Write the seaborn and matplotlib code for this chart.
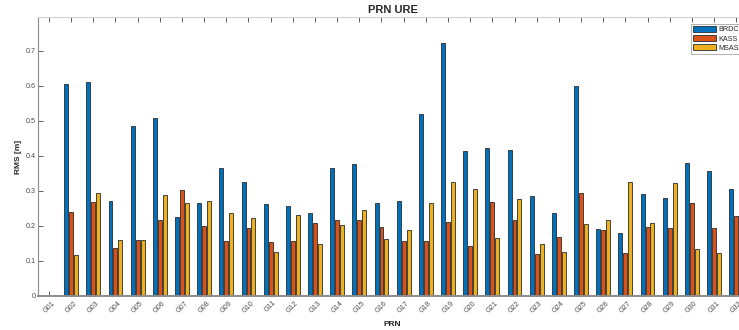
import numpy as np
import pandas as pd
import seaborn as sns
from matplotlib import pyplot as plt

sns.set_style("ticks")
plt.rcParams["font.family"] = ["Liberation Sans", "DejaVu Sans"]

PRN = [f"G{i:02d}" for i in range(1, 33)]
SOURCES = ["BRDC", "KASS", "MSAS"]
COLORS = ["#0072BD", "#D95319", "#EDB120"]

BRDC = [0.0, 0.604, 0.610, 0.272, 0.485, 0.508, 0.225, 0.264, 0.366, 0.324, 0.262,
        0.256, 0.236, 0.365, 0.376, 0.266, 0.271, 0.519, 0.722, 0.415, 0.421, 0.416,
        0.285, 0.238, 0.600, 0.190, 0.179, 0.292, 0.279, 0.380, 0.356, 0.306]
KASS = [0.0, 0.239, 0.267, 0.136, 0.161, 0.216, 0.302, 0.201, 0.157, 0.194, 0.153,
        0.157, 0.207, 0.217, 0.217, 0.196, 0.158, 0.156, 0.212, 0.144, 0.269, 0.218,
        0.121, 0.168, 0.294, 0.187, 0.124, 0.196, 0.195, 0.264, 0.195, 0.228]
MSAS = [0.0, 0.117, 0.294, 0.159, 0.159, 0.289, 0.264, 0.272, 0.238, 0.223, 0.125,
        0.232, 0.149, 0.202, 0.246, 0.163, 0.187, 0.264, 0.326, 0.305, 0.166, 0.277,
        0.147, 0.126, 0.206, 0.217, 0.324, 0.207, 0.323, 0.135, 0.123, np.nan]

YTICKS = [0, 0.1, 0.2, 0.3, 0.4, 0.5, 0.6, 0.7]
YTICKLABELS = ["0", "0.1", "0.2", "0.3", "0.4", "0.5", "0.6", "0.7"]


def build_frame():
    frames = []
    for name, vals in zip(SOURCES, [BRDC, KASS, MSAS]):
        frames.append(pd.DataFrame({"prn": PRN, "rms": vals, "source": name}))
    return pd.concat(frames, ignore_index=True)


def plot_data():
    df = build_frame()

    W, H = 739, 330
    fig = plt.figure(figsize=(W / 100, H / 100), dpi=100)
    # axes runs past the right edge of the picture, like the cropped original
    ax = fig.add_axes([38.3 / W, 34 / H, 709 / W, 278.7 / H])

    sns.barplot(data=df, x="prn", y="rms", hue="source", order=PRN, hue_order=SOURCES,
                palette=COLORS, width=0.667, gap=0.2, edgecolor="#2a2a2a",
                linewidth=0.6, saturation=1, ax=ax, legend=True)

    ax.set_xlim(-0.48, 31.5)
    ax.set_ylim(0, 0.795)
    ax.set_yticks(YTICKS)
    ax.set_yticklabels(YTICKLABELS)
    ax.set_xticks(range(len(PRN)))
    ax.set_xticklabels(PRN, rotation=45, ha="center")

    ax.tick_params(axis="both", direction="in", length=3.5, width=0.6, color="#444444",
                   labelsize=5.2, labelcolor="#4d4d4d", top=True, right=True)
    ax.tick_params(axis="x", pad=2.5)
    ax.tick_params(axis="y", pad=2)

    for side in ["left", "right"]:
        ax.spines[side].set_color("#8c8c8c")
        ax.spines[side].set_linewidth(0.8)
    ax.spines["bottom"].set_color("#8c8c8c")
    ax.spines["bottom"].set_linewidth(1.4)
    ax.spines["top"].set_color("#d0d0d0")
    ax.spines["top"].set_linewidth(0.8)

    ax.set_title("PRN URE", fontsize=8, fontweight="bold", pad=3)
    ax.set_xlabel("PRN", fontsize=6, fontweight="bold")
    ax.set_ylabel("RMS [m]", fontsize=6, fontweight="bold")
    ax.xaxis.set_label_coords(0.5, -0.089)
    ax.yaxis.set_label_coords(-0.023, 0.5)

    ax.get_legend().remove()
    handles, labels = ax.get_legend_handles_labels()
    leg = fig.legend(handles[:3], labels[:3], loc="upper left",
                     bbox_to_anchor=(690.7 / W, 1 - 24 / H), fontsize=5.2,
                     frameon=True, fancybox=False, handlelength=3.3, handleheight=0.9,
                     handletextpad=0.3, borderpad=0.25, labelspacing=0.25,
                     borderaxespad=0)
    leg.get_frame().set_edgecolor("#8c8c8c")
    leg.get_frame().set_linewidth(0.6)

    fig.savefig("out.png", dpi=100)


def main():
    plot_data()


if __name__ == "__main__":
    main()
